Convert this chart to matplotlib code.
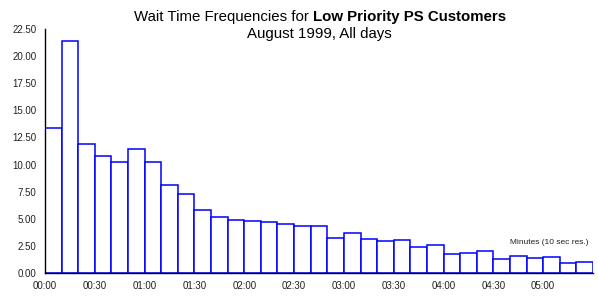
import matplotlib
matplotlib.use('Agg')

import matplotlib.pyplot as plt
from matplotlib.ticker import FuncFormatter, MultipleLocator

plt.rcParams.update({
    'font.family': ['Liberation Sans', 'DejaVu Sans'],
    'font.size': 7,
})

# wait time bins (seconds, 10 sec resolution) and frequency (%)
bin_start = list(range(0, 330, 10))
freq = [13.4, 21.35, 11.85, 10.82, 10.2, 11.47, 10.27, 8.09, 7.3, 5.82,
        5.17, 4.93, 4.80, 4.67, 4.49, 4.38, 4.32, 3.25, 3.70, 3.15,
        2.96, 3.02, 2.42, 2.56, 1.73, 1.85, 2.0, 1.27, 1.55, 1.36,
        1.46, 0.93, 1.02]
x_ticks = list(range(0, 301, 30))

fig = plt.figure(figsize=(5.98, 3.05), dpi=100, facecolor='white')
ax = fig.add_axes([45 / 598, 1 - 273 / 305, 548 / 598, 244 / 305])

ax.bar(bin_start, freq, width=10, align='edge', color='white',
       edgecolor='#0000ff', linewidth=1.1)

ax.set_xlim(0, 330)
ax.set_ylim(0, 22.5)
ax.yaxis.set_major_locator(MultipleLocator(2.5))
ax.yaxis.set_major_formatter(FuncFormatter(lambda v, p: f'{v:.2f}'))
ax.set_xticks(x_ticks)
ax.xaxis.set_major_formatter(
    FuncFormatter(lambda v, p: f'{int(v) // 60:02d}:{int(v) % 60:02d}'))
ax.tick_params(axis='both', length=0, labelsize=7, colors='#222222')
ax.tick_params(axis='y', pad=6)
ax.tick_params(axis='x', pad=6)

for s in ('top', 'right'):
    ax.spines[s].set_visible(False)
for s in ('left', 'bottom'):
    ax.spines[s].set_color('black')
    ax.spines[s].set_linewidth(1.0)

ax.text(588 / 598, 1 - 242 / 305, 'Minutes (10 sec res.)', transform=fig.transFigure,
        ha='right', va='center', fontsize=6, color='#222222')

# title: normal + bold segment on one line
fig.canvas.draw()
r = fig.canvas.get_renderer()
t1 = fig.text(0, 1 - 17 / 305, 'Wait Time Frequencies for ', fontsize=10.8,
              ha='left', va='center')
t2 = fig.text(0, 1 - 17 / 305, 'Low Priority PS Customers', fontsize=10.8,
              fontweight='bold', ha='left', va='center')
w1 = t1.get_window_extent(r).width
w2 = t2.get_window_extent(r).width
cx = 320
x0 = cx - (w1 + w2) / 2
t1.set_x(x0 / 598)
t2.set_x((x0 + w1) / 598)
fig.text(319 / 598, 1 - 34 / 305, 'August 1999, All days', fontsize=10.8,
         ha='center', va='center')

fig.savefig('out.png', dpi=100, facecolor='white')
